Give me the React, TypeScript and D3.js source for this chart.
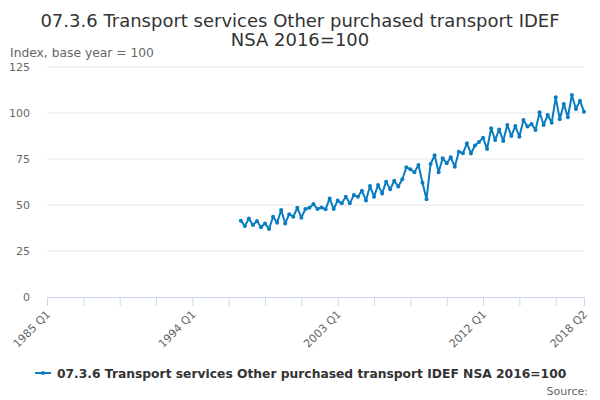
import { useEffect, useRef } from "react";
import * as d3 from "d3";

// quarters counted from 1985 Q1 (index 0)
const firstQuarter = 48; // 1997 Q1
const lastQuarter = 133; // 2018 Q2

const values = [
  41.5, 38.6, 42.6, 39.1, 41.3, 37.9, 40.0, 37.0,
  43.6, 40.4, 47.3, 40.0, 45.0, 43.6, 48.5, 43.1,
  47.8, 48.5, 50.5, 47.8, 48.7, 47.7, 53.6, 47.8,
  52.4, 50.9, 54.5, 50.9, 55.4, 54.5, 57.8, 52.4,
  60.3, 54.5, 60.9, 56.3, 62.7, 58.5, 63.2, 60.0,
  64.0, 70.5, 69.4, 67.8, 71.7, 62.1, 53.1, 72.3,
  77.0, 67.8, 75.4, 72.7, 75.9, 70.8, 79.0, 78.1,
  83.5, 78.0, 82.3, 84.2, 86.6, 80.4, 91.7, 85.3,
  91.1, 84.8, 93.5, 87.5, 92.9, 87.1, 96.2, 92.6,
  94.0, 90.8, 100.4, 93.5, 98.9, 94.7, 108.5, 96.6,
  104.9, 97.7, 109.8, 102.2, 106.7, 100.7,
];

const yTicks = [0, 25, 50, 75, 100, 125];
const labelledTicks = [0, 36, 72, 108, 133];
const tickLabels = ["1985 Q1", "1994 Q1", "2003 Q1", "2012 Q1", "2018 Q2"];

const titleLines = [
  "07.3.6 Transport services Other purchased transport IDEF",
  "NSA 2016=100",
];
const seriesName = "07.3.6 Transport services Other purchased transport IDEF NSA 2016=100";

const lineColor = "#0a7cc1";
const font = "'DejaVu Sans', sans-serif";

export default function App() {
  const svgRef = useRef<SVGSVGElement>(null);

  useEffect(() => {
    if (!svgRef.current) return;
    const width = 600;
    const height = 400;
    const margin = { top: 67, right: 16, bottom: 103, left: 47 };

    const svg = d3.select(svgRef.current);
    svg.selectAll("*").remove();
    svg.attr("width", width).attr("height", height).style("font-family", font);

    const x = d3
      .scaleLinear()
      .domain([0, lastQuarter])
      .range([margin.left, width - margin.right]);
    const y = d3
      .scaleLinear()
      .domain([0, 125])
      .range([height - margin.bottom, margin.top]);

    // title
    svg
      .append("text")
      .attr("text-anchor", "middle")
      .attr("font-size", 18)
      .attr("fill", "#333")
      .selectAll("tspan")
      .data(titleLines)
      .join("tspan")
      .attr("x", 300)
      .attr("y", (_, i) => 27 + i * 19)
      .text((d) => d);

    svg
      .append("text")
      .attr("x", 10)
      .attr("y", 57)
      .attr("font-size", 12.3)
      .attr("fill", "#666")
      .text("Index, base year = 100");

    // grid lines
    svg
      .append("g")
      .selectAll("line")
      .data(yTicks.filter((t) => t > 0))
      .join("line")
      .attr("x1", margin.left)
      .attr("x2", width - margin.right)
      .attr("y1", (d) => y(d))
      .attr("y2", (d) => y(d))
      .attr("stroke", "#e6e6e6");

    svg
      .append("g")
      .selectAll("text")
      .data(yTicks)
      .join("text")
      .attr("x", 30)
      .attr("y", (d) => y(d) + 4)
      .attr("text-anchor", "end")
      .attr("font-size", 11)
      .attr("fill", "#666")
      .text((d) => d);

    // x axis
    const xAxis = d3
      .axisBottom(x)
      .tickValues(d3.range(0, lastQuarter, 9).concat([lastQuarter]))
      .tickSize(9)
      .tickFormat(() => "");
    const gx = svg
      .append("g")
      .attr("transform", `translate(0,${y(0)})`)
      .call(xAxis);
    gx.select(".domain").attr("stroke", "#ccd6eb");
    gx.selectAll(".tick line").attr("stroke", "#ccd6eb");

    svg
      .append("g")
      .selectAll("text")
      .data(labelledTicks)
      .join("text")
      .attr("font-size", 11)
      .attr("fill", "#666")
      .attr("text-anchor", "end")
      .attr(
        "transform",
        (d) => `translate(${x(d) + 4},${y(0) + 18}) rotate(-45)`
      )
      .text((_, i) => tickLabels[i]);

    // series
    const points = values.map((v, i) => ({ q: firstQuarter + i, v }));
    const line = d3
      .line<{ q: number; v: number }>()
      .x((d) => x(d.q))
      .y((d) => y(d.v));

    svg
      .append("path")
      .datum(points)
      .attr("fill", "none")
      .attr("stroke", lineColor)
      .attr("stroke-width", 2)
      .attr("stroke-linejoin", "round")
      .attr("d", line);

    svg
      .append("g")
      .selectAll("circle")
      .data(points)
      .join("circle")
      .attr("cx", (d) => x(d.q))
      .attr("cy", (d) => y(d.v))
      .attr("r", 2)
      .attr("fill", lineColor);

    // legend
    const legend = svg.append("g").attr("transform", "translate(35,373)");
    legend
      .append("line")
      .attr("x1", 0)
      .attr("x2", 16)
      .attr("stroke", lineColor)
      .attr("stroke-width", 2);
    legend.append("circle").attr("cx", 8).attr("r", 2).attr("fill", lineColor);
    legend
      .append("text")
      .attr("x", 22)
      .attr("y", 5)
      .attr("font-size", 12.3)
      .attr("font-weight", "bold")
      .attr("fill", "#333")
      .text(seriesName);

    svg
      .append("text")
      .attr("x", 588)
      .attr("y", 395)
      .attr("text-anchor", "end")
      .attr("font-size", 11)
      .attr("fill", "#666")
      .text("Source:");
  }, []);

  return (
    <div style={{ position: "absolute", left: 0, top: 0 }}>
      <svg ref={svgRef} />
    </div>
  );
}
